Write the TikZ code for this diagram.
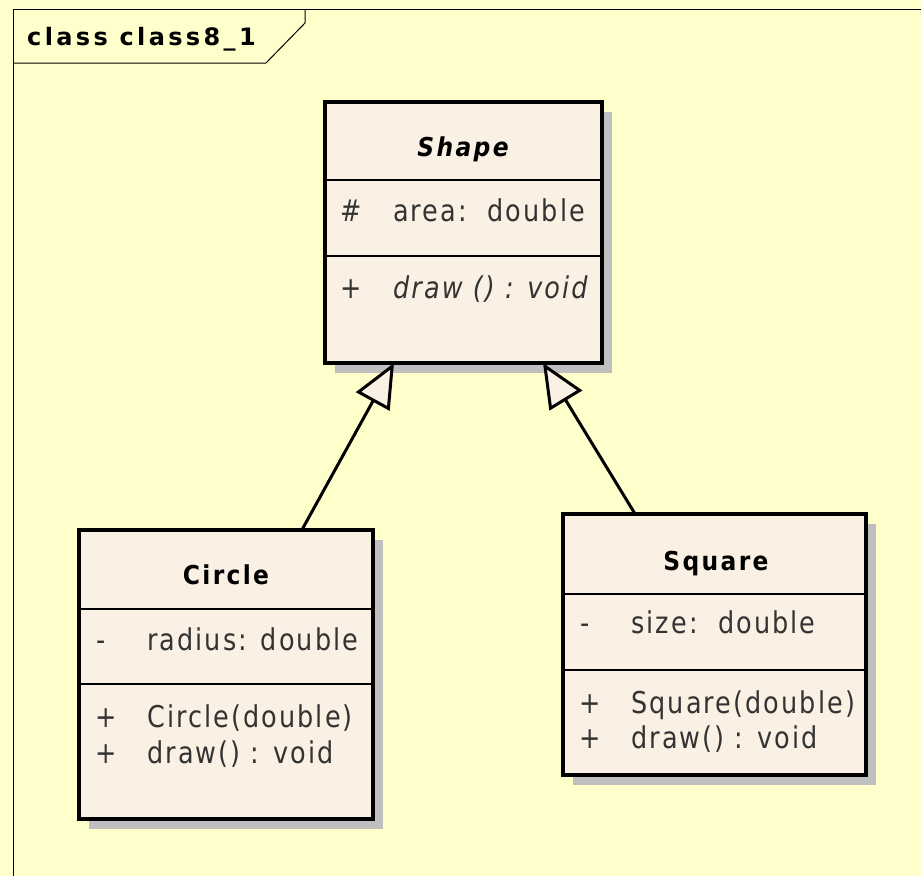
\documentclass[tikz,border=0pt]{standalone}
\usepackage{fontspec}
\setmainfont{DejaVu Sans}
\newfontfamily\framefont[LetterSpace=14]{DejaVu Sans}
\newfontfamily\headfont[LetterSpace=9,FakeStretch=0.9]{DejaVu Sans}
\newfontfamily\attrfont[LetterSpace=7,FakeStretch=0.85]{DejaVu Sans}
\usetikzlibrary{arrows.meta,calc,shadows}
\definecolor{bgyellow}{HTML}{FFFFCC}
\definecolor{boxfill}{HTML}{FAF0E4}
\definecolor{shadowgray}{HTML}{BFBFBF}
\definecolor{attrgray}{HTML}{333333}
\begin{document}
\begin{tikzpicture}[x=1pt,y=-1pt,
  umlbox/.style={draw=black, line width=3.5pt, fill=boxfill, inner sep=0pt, outer sep=0pt,
    drop shadow={shadow xshift=10pt, shadow yshift=-10pt, fill=shadowgray, opacity=1}},
  divider/.style={draw=black, line width=2.5pt},
  frameline/.style={draw=black, line width=1pt},
  frametitle/.style={font=\framefont\bfseries\fontsize{24}{29}\selectfont, inner sep=0pt, anchor=base west},
  headtext/.style={font=\headfont\bfseries\fontsize{26}{31}\selectfont, inner sep=0pt, anchor=base},
  attrtext/.style={font=\attrfont\fontsize{30}{36}\selectfont, text=attrgray, inner sep=0pt, anchor=base west},
  inherit/.style={draw=black, line width=3pt, -{Triangle[length=44pt, width=38pt, fill=boxfill]}}
]
\useasboundingbox (0,0) rectangle (921,876);
\fill[bgyellow] (0,0) rectangle (921,876);
% frame
\draw[frameline] (13,876) -- (13,9) -- (921,9);
\draw[frameline] (13,63) -- (266,63) -- (305,23) -- (305,9);
\node[frametitle] (ftitle) at (27,45) {class class8\_1};

% boxes
\node[umlbox, minimum width=277pt, minimum height=261pt] (shape) at (463.5,232.5) {};
\node[umlbox, minimum width=294pt, minimum height=289pt] (circ) at (226,674.5) {};
\node[umlbox, minimum width=303pt, minimum height=261pt] (sq) at (714.5,644.5) {};

% dividers
\draw[divider] ($(shape.north west)+(0,78)$) -- ($(shape.north east)+(0,78)$);
\draw[divider] ($(shape.north west)+(0,154)$) -- ($(shape.north east)+(2,154)$);
\draw[divider] ($(circ.north west)+(0,79)$) -- ($(circ.north east)+(0,79)$);
\draw[divider] ($(circ.north west)+(0,154)$) -- ($(circ.north east)+(2,154)$);
\draw[divider] ($(sq.north west)+(0,80)$) -- ($(sq.north east)+(0,80)$);
\draw[divider] ($(sq.north west)+(0,156)$) -- ($(sq.north east)+(2,156)$);

% Shape texts
\node[headtext, font=\headfont\bfseries\itshape\fontsize{26}{31}\selectfont] (shapetitle) at (463,156) {Shape};
\node[attrtext] (shapevis1) at (340,221) {\#};
\node[attrtext] (shapeattr) at (393,221) {area:\ \ double};
\node[attrtext] (shapevis2) at (340,298) {+};
\node[attrtext, font=\attrfont\itshape\fontsize{30}{36}\selectfont] (shapeop) at (393,298) {draw () : void};

% Circle texts
\node[headtext] (circtitle) at (226,584) {Circle};
\node[attrtext] (circvis1) at (96,650) {-};
\node[attrtext] (circattr) at (147,650) {radius: double};
\node[attrtext] (circvis2) at (95,727) {+};
\node[attrtext] (circop1) at (147,727) {Circle(double)};
\node[attrtext] (circvis3) at (95,763) {+};
\node[attrtext] (circop2) at (147,763) {draw() : void};

% Square texts
\node[headtext] (sqtitle) at (716,570) {Square};
\node[attrtext] (sqvis1) at (580,633) {-};
\node[attrtext] (sqattr) at (631,633) {size:\ \ double};
\node[attrtext] (sqvis2) at (579,713) {+};
\node[attrtext] (sqop1) at (631,713) {Square(double)};
\node[attrtext] (sqvis3) at (579,748) {+};
\node[attrtext] (sqop2) at (631,748) {draw() : void};

% generalizations
\draw[inherit] ($(circ.north west)!0.758!(circ.north east)$) -- ($(shape.south west)!0.249!(shape.south east)$);
\draw[inherit] ($(sq.north west)!0.238!(sq.north east)$) -- ($(shape.south west)!0.787!(shape.south east)$);
\end{tikzpicture}
\end{document}
